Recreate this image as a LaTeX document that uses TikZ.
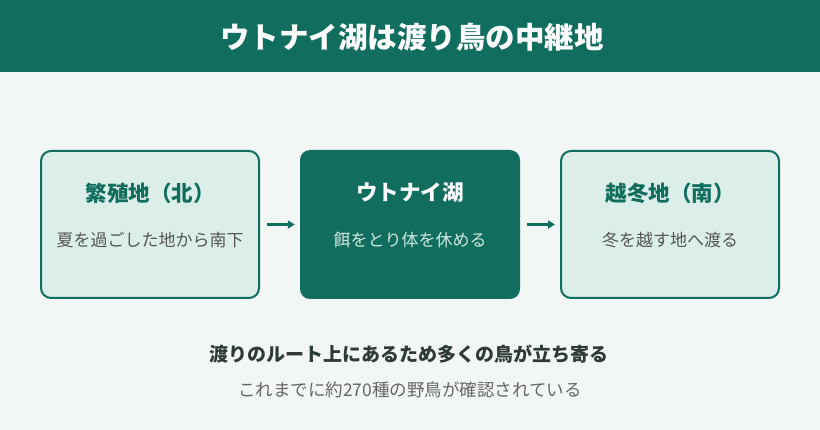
\documentclass[tikz,border=0pt]{standalone}
\usepackage{fontspec}
\setmainfont{Noto Sans CJK JP}
\usetikzlibrary{arrows.meta}
\definecolor{dkgreen}{HTML}{116E5E}
\definecolor{bgc}{HTML}{F2F7F5}
\definecolor{lightbox}{HTML}{DCEEE9}
\definecolor{subgray}{HTML}{555555}
\definecolor{subpale}{HTML}{CDE6DF}
\definecolor{darktext}{HTML}{2E3A36}
\definecolor{notegray}{HTML}{666666}
\tikzset{
  x=1pt, y=-1pt,
  stage/.style={draw=dkgreen, line width=2pt, fill=lightbox, rounded corners=10pt, minimum width=218pt, minimum height=147pt},
  stagedark/.style={fill=dkgreen, rounded corners=10pt, minimum width=220pt, minimum height=149pt},
  ttl/.style={font=\bfseries\fontsize{21.5}{25}\selectfont, text=dkgreen},
  sub/.style={font=\fontsize{17}{20}\selectfont, text=subgray},
  flow/.style={-{Triangle[length=7pt,width=8pt]}, draw=dkgreen, line width=2.2pt, fill=dkgreen}
}
\begin{document}
\begin{tikzpicture}
\useasboundingbox (0,0) rectangle (820,430);
\fill[bgc] (0,0) rectangle (820,430);
\fill[dkgreen] (0,0) rectangle (820,72);
\node[font=\bfseries\fontsize{29.5}{34}\selectfont, text=white] (title) at (412,37) {ウトナイ湖は渡り鳥の中継地};

\node[stage] (b1) at (150,224.5) {};
\node[stagedark] (b2) at (410,224.5) {};
\node[stage] (b3) at (670,224.5) {};

\node[ttl] (t1) at (150,193) {繁殖地（北）};
\node[sub] (s1) at (150,240) {夏を過ごした地から南下};
\node[ttl, text=white] (t2) at (410,193) {ウトナイ湖};
\node[sub, text=subpale] (s2) at (410,240) {餌をとり体を休める};
\node[ttl] (t3) at (670,193) {越冬地（南）};
\node[sub] (s3) at (670,240) {冬を越す地へ渡る};

\draw[flow] ([xshift=7pt]b1.east) -- ([xshift=-5pt]b2.west);
\draw[flow] ([xshift=7pt]b2.east) -- ([xshift=-5pt]b3.west);

\node[font=\bfseries\fontsize{19}{22}\selectfont, text=darktext] (n1) at (409,354) {渡りのルート上にあるため多くの鳥が立ち寄る};
\node[font=\fontsize{17.5}{20}\selectfont, text=notegray] (n2) at (410,390) {これまでに約270種の野鳥が確認されている};
\end{tikzpicture}
\end{document}
